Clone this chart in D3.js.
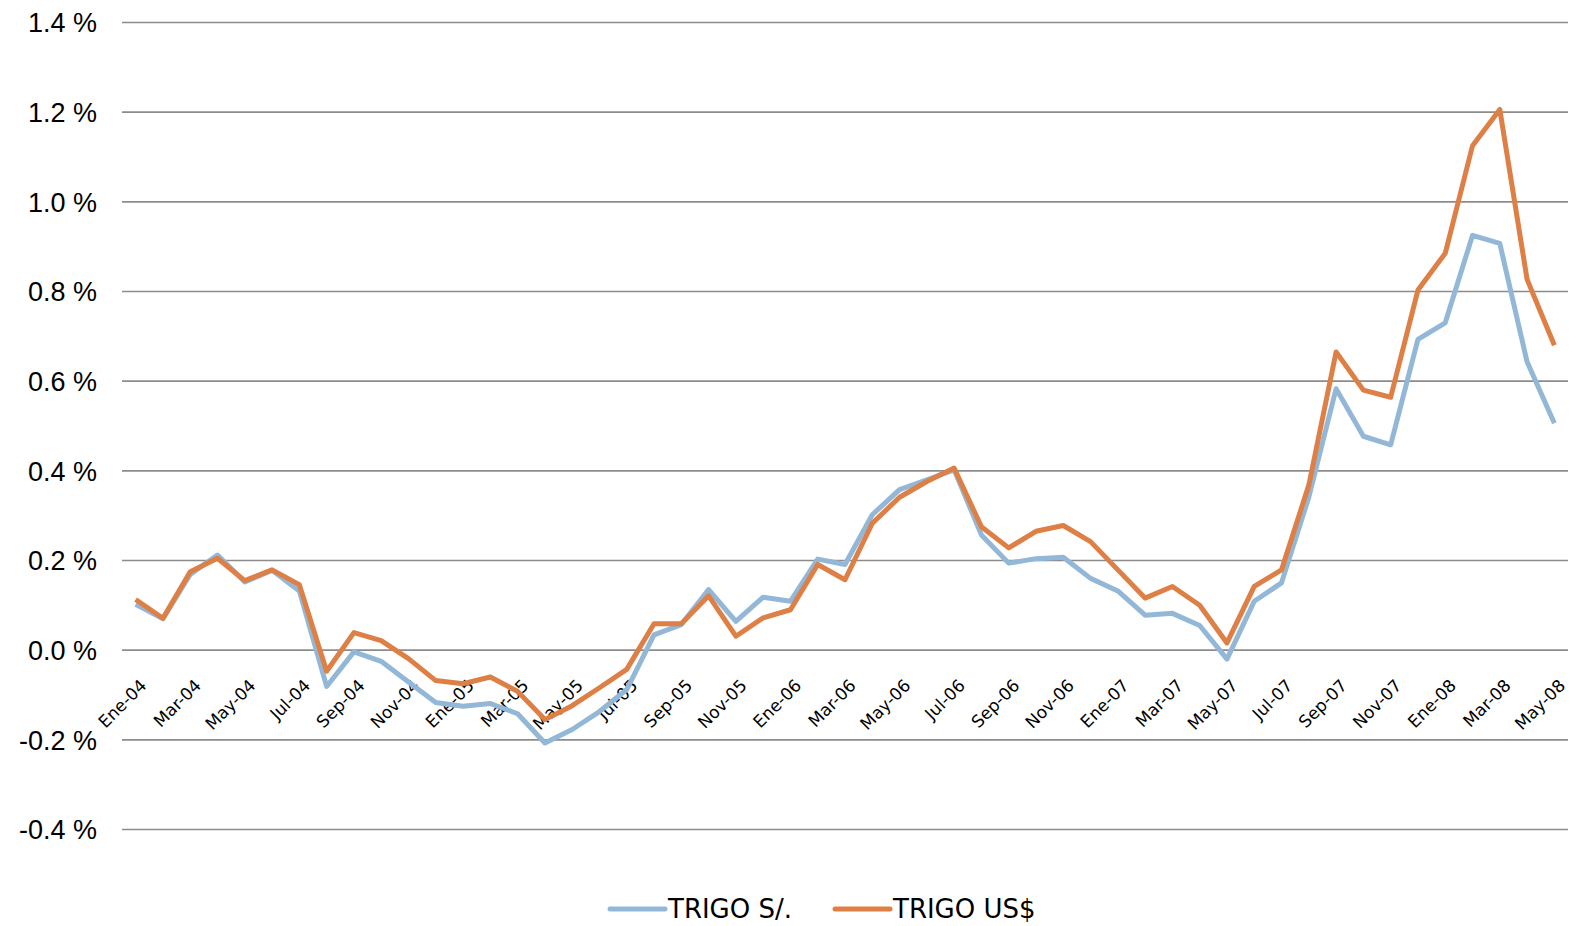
<!DOCTYPE html>
<html>
<head>
<meta charset="utf-8">
<script src="https://cdn.jsdelivr.net/npm/d3@7"></script>
<style>
  body { margin: 0; background: #fff; }
  svg { display: block; }
  .ytick text { font-family: "Liberation Sans", Arial, sans-serif; font-size: 27px; fill: #000; }
  .xlab { font-family: "DejaVu Sans", sans-serif; font-size: 17px; fill: #000; }
  .legend text { font-family: "DejaVu Sans", sans-serif; font-size: 26px; fill: #000; }
</style>
</head>
<body>
<div id="chart"></div>
<script>
// Months (Spanish abbreviations, as in the source)
const months = [
  "Ene-04","Feb-04","Mar-04","Abr-04","May-04","Jun-04","Jul-04","Ago-04","Sep-04","Oct-04","Nov-04","Dic-04",
  "Ene-05","Feb-05","Mar-05","Abr-05","May-05","Jun-05","Jul-05","Ago-05","Sep-05","Oct-05","Nov-05","Dic-05",
  "Ene-06","Feb-06","Mar-06","Abr-06","May-06","Jun-06","Jul-06","Ago-06","Sep-06","Oct-06","Nov-06","Dic-06",
  "Ene-07","Feb-07","Mar-07","Abr-07","May-07","Jun-07","Jul-07","Ago-07","Sep-07","Oct-07","Nov-07","Dic-07",
  "Ene-08","Feb-08","Mar-08","Abr-08","May-08"
];

// TRIGO S/. (%)
const trigoSoles = [
  0.101, 0.069, 0.168, 0.211, 0.151, 0.177, 0.131, -0.082, -0.005, -0.026, -0.072, -0.118,
  -0.126, -0.120, -0.143, -0.208, -0.178, -0.138, -0.089, 0.033, 0.056, 0.134, 0.063, 0.117,
  0.108, 0.202, 0.190, 0.301, 0.357, 0.379, 0.401, 0.256, 0.193, 0.203, 0.206, 0.159,
  0.131, 0.077, 0.081, 0.054, -0.021, 0.108, 0.149, 0.340, 0.582, 0.476, 0.457, 0.692,
  0.729, 0.924, 0.906, 0.642, 0.505
];

// TRIGO US$ (%)
const trigoDolares = [
  0.112, 0.070, 0.174, 0.204, 0.154, 0.178, 0.145, -0.048, 0.038, 0.020, -0.020, -0.069,
  -0.076, -0.061, -0.093, -0.156, -0.125, -0.085, -0.044, 0.058, 0.058, 0.120, 0.030, 0.071,
  0.089, 0.190, 0.156, 0.282, 0.340, 0.375, 0.405, 0.274, 0.227, 0.264, 0.277, 0.241,
  0.178, 0.115, 0.141, 0.099, 0.015, 0.141, 0.178, 0.367, 0.664, 0.579, 0.563, 0.802,
  0.884, 1.124, 1.205, 0.826, 0.679
];

const yTicks = [-0.4, -0.2, 0.0, 0.2, 0.4, 0.6, 0.8, 1.0, 1.2, 1.4];

const series = [
  { name: "TRIGO S/.", values: trigoSoles, color: "#93b7d6" },
  { name: "TRIGO US$", values: trigoDolares, color: "#de7f45" }
];

const width = 1569, height = 926;
const margin = { top: 22, right: 1, bottom: 97, left: 122 };

const svg = d3.select("#chart").append("svg")
  .attr("width", width)
  .attr("height", height);

const x = d3.scaleBand()
  .domain(months)
  .range([margin.left, width - margin.right]);

const y = d3.scaleLinear()
  .domain([-0.4, 1.4])
  .range([height - margin.bottom, margin.top]);

const cx = d => x(d) + x.bandwidth() / 2;

// Gridlines + y labels (plain hyphen for negatives, like the source)
const yAxis = svg.append("g")
  .attr("transform", `translate(${margin.left},0)`)
  .call(d3.axisLeft(y)
    .tickValues(yTicks)
    .tickSize(-(width - margin.right - margin.left))
    .tickPadding(25)
    .tickFormat(d => d.toFixed(1) + " %"));
yAxis.select(".domain").remove();
yAxis.selectAll(".tick").attr("class", "tick ytick");
yAxis.selectAll(".tick line")
  .attr("stroke", "#8c8c8c")
  .attr("stroke-width", 1.6);
yAxis.selectAll(".tick text").attr("dy", "0.36em");

// X labels (every second month), rotated
svg.append("g")
  .selectAll("text")
  .data(months.filter((d, i) => i % 2 === 0))
  .join("text")
  .attr("class", "xlab")
  .attr("text-anchor", "end")
  .attr("transform", d => `translate(${cx(d) + 12},${y(0) + 37}) rotate(-45)`)
  .text(d => d);

// Lines
const line = d3.line()
  .x((d, i) => cx(months[i]))
  .y(d => y(d));

svg.append("g")
  .selectAll("path")
  .data(series)
  .join("path")
  .attr("fill", "none")
  .attr("stroke", d => d.color)
  .attr("stroke-width", 5)
  .attr("stroke-linejoin", "round")
  .attr("d", d => line(d.values));

// Legend
const legend = svg.append("g").attr("class", "legend");
const legendX = [610, 835];
series.forEach((s, i) => {
  const g = legend.append("g").attr("transform", `translate(${legendX[i]},909)`);
  g.append("line")
    .attr("x1", 0).attr("x2", 55)
    .attr("stroke", s.color)
    .attr("stroke-width", 5)
    .attr("stroke-linecap", "round");
  g.append("text")
    .attr("x", 58)
    .attr("dy", "0.36em")
    .text(s.name);
});
</script>
</body>
</html>
